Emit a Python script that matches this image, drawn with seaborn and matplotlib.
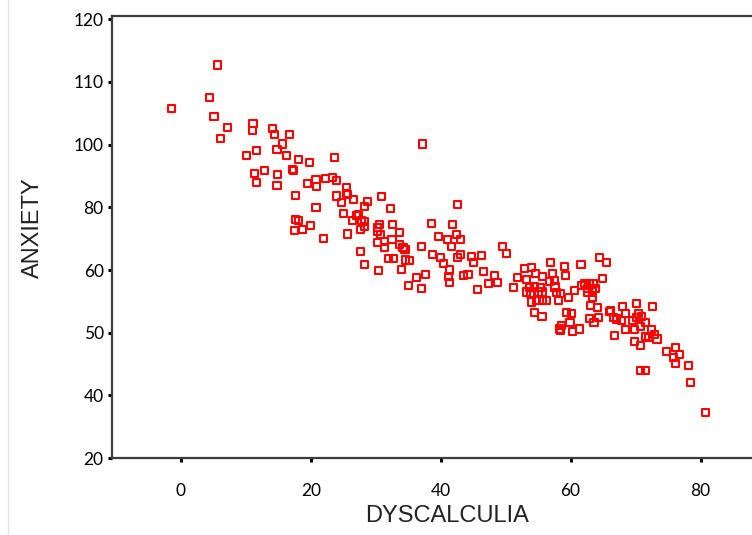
import matplotlib
matplotlib.use("Agg")
import matplotlib.pyplot as plt
import matplotlib.ticker as mticker
from matplotlib.lines import Line2D
import seaborn as sns
import pandas as pd
import numpy as np

# values
dyscalculia = [
    -1.4, 5.7, 4.4, 5.1, 7.2, 6.1, 11.1, 11.0, 10.1, 11.7, 11.4, 11.7,
    14.1, 14.4, 16.7, 15.7, 14.8, 16.3, 18.1, 19.8, 23.6, 12.9, 14.9, 14.8,
    17.2, 17.4, 19.5, 20.8, 20.9, 22.3, 23.4, 24.0, 17.6, 24.0,
    25.5, 25.5, 25.7, 24.7, 26.6, 20.8, 25.0, 28.2, 28.7, 30.9, 32.3,
    26.4, 27.0, 27.4, 27.8, 28.3, 28.3, 27.6, 25.7,
    17.6, 18.1, 18.7, 17.5, 20.0, 22.0,
    30.3, 30.6, 30.2, 30.8, 30.2, 31.3, 31.3,
    32.6, 32.5, 33.7, 34.2, 34.5, 31.9, 32.7, 34.6, 33.9, 27.6, 28.3, 30.4, 35.0,
    37.2, 42.6, 38.6, 41.8, 33.6, 39.6, 41.0, 42.5, 43.1, 41.7, 37.1, 49.5, 50.2,
    35.2, 38.7, 40.0, 40.4, 43.1, 42.6, 44.7, 45.0, 46.3, 41.4, 36.3, 37.7,
    41.2, 41.4, 43.5, 44.2, 46.6, 48.3, 48.7, 47.3, 45.7, 37.1,
    51.2, 51.8, 52.9, 54.0, 54.6, 56.9, 59.1, 61.6, 64.4, 65.5,
    53.2, 55.7, 57.2, 59.2, 56.8, 57.5, 53.6, 54.5, 55.4, 53.2, 53.8, 55.1, 55.6,
    57.6, 57.8, 58.5, 60.6, 61.7,
    62.2, 62.9, 63.5, 62.6, 63.3, 63.9, 62.6, 63.4,
    63.3, 58.1, 59.7, 54.0, 54.8, 55.7, 56.3, 54.4, 55.6, 63.0, 64.1, 66.1, 67.0,
    59.4, 60.2, 62.9, 64.3, 63.6, 59.9, 58.6, 58.3, 58.5, 60.3, 61.4, 66.8,
    64.9, 70.2, 72.6, 66.0, 68.0, 66.6, 67.1, 67.9, 68.4, 70.4, 70.9, 70.2,
    69.5, 71.6, 70.7, 69.9, 72.5, 68.4, 71.5, 72.0, 72.9, 73.3, 69.9, 70.7,
    74.8, 76.1, 76.7, 75.8, 76.1, 78.1, 70.7, 71.6, 78.4, 80.7,
]
anxiety = [
    105.8, 112.7, 107.5, 104.5, 102.8, 101.0, 103.3, 102.2, 96.4, 98.1, 90.8, 88.0,
    102.6, 101.6, 101.6, 100.1, 98.4, 96.6, 95.3, 94.4, 96.0, 91.8, 90.6, 87.1,
    92.1, 91.6, 87.6, 88.8, 86.5, 89.3, 89.5, 88.7, 83.8, 83.6,
    86.2, 84.5, 84.0, 81.5, 82.6, 80.0, 78.1, 80.3, 82.0, 83.4, 79.5,
    75.8, 77.4, 77.7, 75.8, 75.4, 73.9, 72.8, 71.5,
    76.2, 75.9, 72.8, 72.7, 74.1, 70.2,
    73.6, 74.5, 72.3, 71.3, 68.8, 69.0, 67.2,
    74.5, 69.6, 71.9, 67.3, 66.6, 63.7, 63.7, 63.2, 60.3, 66.0, 61.9, 59.9, 57.6,
    100.1, 81.0, 74.7, 74.5, 68.2, 70.6, 69.6, 71.2, 69.6, 67.6, 67.6, 67.6, 65.4,
    63.0, 65.0, 64.1, 62.1, 65.1, 64.1, 64.2, 62.4, 64.7, 60.0, 58.8, 59.3,
    58.9, 58.0, 59.1, 59.3, 59.7, 59.1, 58.0, 57.9, 56.9, 57.1,
    57.2, 58.8, 60.5, 60.9, 59.5, 62.3, 61.0, 61.8, 64.1, 62.5,
    58.5, 59.0, 59.4, 59.1, 58.2, 58.4, 57.2, 57.3, 57.2, 56.5, 56.3, 56.5, 56.5,
    57.3, 56.4, 56.2, 56.8, 57.6,
    57.9, 57.9, 57.9, 57.1, 57.1, 57.1, 56.4, 56.5,
    55.6, 55.2, 55.6, 54.9, 55.1, 55.1, 55.2, 53.3, 52.6, 54.4, 54.0, 53.5, 52.2,
    53.3, 53.1, 52.2, 52.4, 51.7, 51.7, 51.2, 50.6, 50.3, 50.2, 50.6, 49.5,
    58.7, 54.7, 54.2, 53.4, 54.2, 52.4, 52.1, 52.0, 53.0, 53.1, 52.6, 52.4,
    51.9, 51.7, 51.0, 50.5, 50.5, 50.5, 49.4, 49.3, 49.7, 49.0, 48.6, 47.9,
    47.0, 47.6, 46.6, 46.0, 45.1, 44.8, 44.0, 44.0, 42.0, 34.7,
]
x_ticks = [0, 20, 40, 60, 80]
y_ticks = [20, 40, 50, 60, 80, 100, 110, 120]

df = pd.DataFrame({"DYSCALCULIA": dyscalculia, "ANXIETY": anxiety})

# the y axis puts its (uneven) labels at equal spacing
tick_pos = np.arange(len(y_ticks), dtype=float)
tick_val = np.array(y_ticks, dtype=float)


def fwd(v):
    v = np.asarray(v, dtype=float)
    out = np.interp(v, tick_val, tick_pos)
    out = np.where(v > tick_val[-1], tick_pos[-1] + (v - tick_val[-1]) / 10.0, out)
    out = np.where(v < tick_val[0], (v - tick_val[0]) / 20.0, out)
    return out


def inv(p):
    p = np.asarray(p, dtype=float)
    out = np.interp(p, tick_pos, tick_val)
    out = np.where(p > tick_pos[-1], tick_val[-1] + (p - tick_pos[-1]) * 10.0, out)
    out = np.where(p < 0, tick_val[0] + p * 20.0, out)
    return out


sns.set_style("white")
plt.rcParams["font.family"] = ["Lato", "DejaVu Sans"]

fig = plt.figure(figsize=(7.52, 5.35), dpi=100)
ax = fig.add_axes([0.149, 0.143, 0.862, 0.827])

sns.scatterplot(data=df, x="DYSCALCULIA", y="ANXIETY", ax=ax, marker="s", s=26,
                facecolor="none", edgecolor="#ff0000", linewidth=1.5)

ax.set_yscale("function", functions=(fwd, inv))
ax.set_xlim(-10.6, 89.2)
ax.set_ylim(19.9, 120.5)
ax.yaxis.set_major_locator(mticker.FixedLocator(y_ticks))
ax.yaxis.set_major_formatter(mticker.FixedFormatter([str(t) for t in y_ticks]))
ax.yaxis.set_minor_locator(mticker.NullLocator())
ax.set_xticks(x_ticks)

for side in ["left", "bottom", "top", "right"]:
    ax.spines[side].set_color("#3c3c3c")
    ax.spines[side].set_linewidth(1.6)

ax.tick_params(axis="y", left=True, direction="out", length=3, width=2.2, color="black",
               labelsize=12.5, pad=3, labelcolor="black")
ax.tick_params(axis="x", bottom=True, direction="out", length=3, width=2.2, color="black",
               labelsize=12.5, pad=15, labelcolor="black")

ax.set_xlabel("DYSCALCULIA", fontsize=17, family="Liberation Sans", color="#222222")
ax.set_ylabel("ANXIETY", fontsize=17, family="Liberation Sans", color="#222222")
ax.xaxis.set_label_coords(0.517, -0.105)
ax.yaxis.set_label_coords(-0.105, 0.521)

# faint border line at the left edge of the screenshot
fig.add_artist(Line2D([8 / 752, 8 / 752], [0, 1], color="#e6e6e6", linewidth=1))

fig.savefig("out.png", dpi=100)
